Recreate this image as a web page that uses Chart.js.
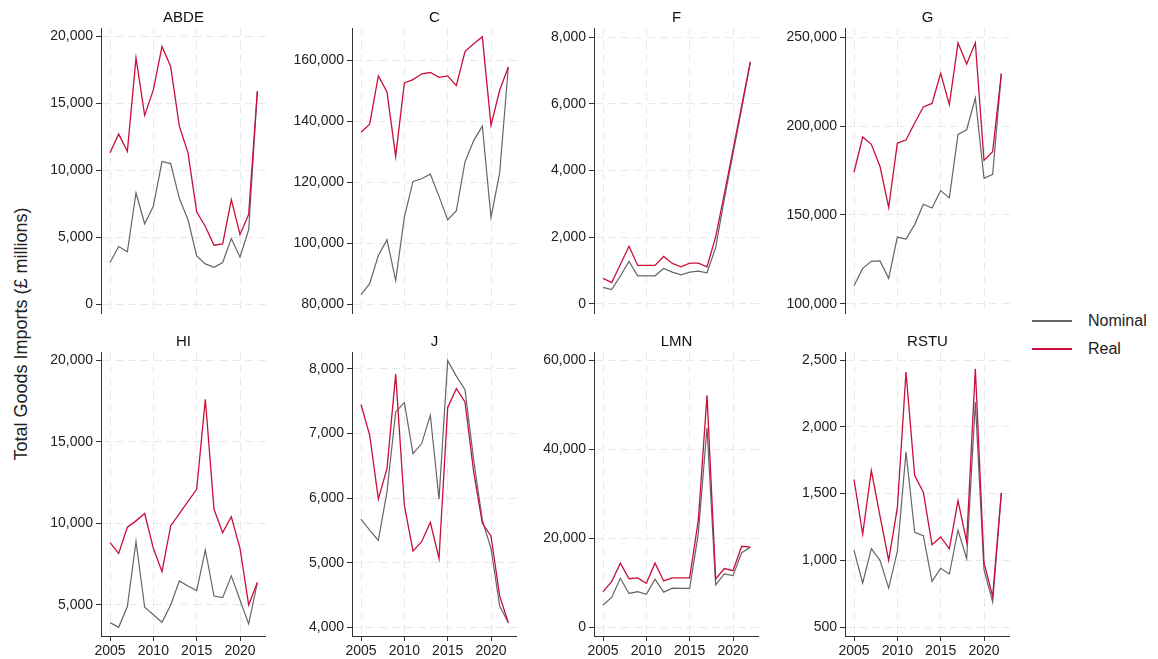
<!DOCTYPE html>
<html>
<head>
<meta charset="utf-8">
<script src="https://cdn.jsdelivr.net/npm/chart.js@4.4.1/dist/chart.umd.min.js"></script>
<style>
    body { margin: 0; background: #fff; }
    #wrap { position: relative; width: 1158px; height: 659px; overflow: hidden; font-family: "Liberation Sans", Arial, sans-serif; }
    canvas { position: absolute; }
    #ytitle {
        position: absolute; left: 21px; top: 334px;
        transform: translate(-50%, -50%) rotate(-90deg);
        white-space: nowrap; font-size: 18px; color: #222;
    }
    .leg { position: absolute; left: 1032px; font-size: 16px; color: #222; }
    .leg .line { position: absolute; left: 0; top: -1px; width: 40px; height: 2px; display: block; }
    .leg .txt { position: absolute; left: 56px; top: -10px; white-space: nowrap; line-height: 20px; }
</style>
</head>
<body>
<div id="wrap">
    <div id="ytitle">Total Goods Imports (£ millions)</div>
    <div class="leg" style="top:321px"><div class="line" style="background:#666666"></div><div class="txt">Nominal</div></div>
    <div class="leg" style="top:349px"><div class="line" style="background:#c90f3a"></div><div class="txt">Real</div></div>
</div>
<script>
// Data
const years = [2005, 2006, 2007, 2008, 2009, 2010, 2011, 2012, 2013, 2014, 2015, 2016, 2017, 2018, 2019, 2020, 2021, 2022];
const yearTicks = [2005, 2010, 2015, 2020];

const abdeNominal = [3100, 4300, 3900, 8300, 6000, 7300, 10650, 10500, 7900, 6300, 3600, 3000, 2750, 3100, 4900, 3500, 5550, 15900];
const abdeReal = [11300, 12700, 11400, 18400, 14100, 16000, 19250, 17750, 13300, 11300, 6900, 5800, 4400, 4500, 7800, 5200, 6700, 15900];
const abdeTicks = [0, 5000, 10000, 15000, 20000];

const cNominal = [83200, 86800, 96000, 101200, 87800, 108600, 120300, 121200, 122700, 115400, 107700, 110700, 126700, 133700, 138400, 108500, 123100, 157800];
const cReal = [136400, 139100, 154900, 149600, 128500, 152600, 153700, 155600, 156000, 154400, 154900, 151700, 162900, 165400, 167700, 138700, 150200, 157800];
const cTicks = [80000, 100000, 120000, 140000, 160000];

const fNominal = [500, 430, 840, 1275, 845, 845, 845, 1065, 955, 875, 955, 985, 935, 1690, 3150, 4500, 5850, 7230];
const fReal = [765, 640, 1185, 1730, 1155, 1155, 1155, 1425, 1215, 1115, 1225, 1225, 1115, 2010, 3300, 4620, 5940, 7260];
const fTicks = [0, 2000, 4000, 6000, 8000];

const gNominal = [110300, 120000, 124000, 124200, 114400, 137600, 136500, 144600, 156000, 153900, 163700, 159600, 195300, 197900, 215700, 170600, 172800, 229400];
const gReal = [174000, 193800, 189700, 177300, 154300, 190400, 192100, 201700, 210700, 212700, 229600, 212000, 246600, 234800, 246800, 180700, 185600, 229400];
const gTicks = [100000, 150000, 200000, 250000];

const hiNominal = [3920, 3630, 4900, 8880, 4860, 4400, 3940, 5000, 6470, 6160, 5880, 8370, 5550, 5450, 6780, 5300, 3840, 6370];
const hiReal = [8820, 8160, 9760, 10150, 10600, 8470, 7040, 9840, 10600, 11350, 12080, 17600, 10860, 9430, 10400, 8470, 5000, 6370];
const hiTicks = [5000, 10000, 15000, 20000];

const jNominal = [5675, 5505, 5345, 6100, 7335, 7480, 6690, 6845, 7285, 5985, 8130, 7890, 7680, 6590, 5660, 5220, 4330, 4070];
const jReal = [7450, 6975, 5985, 6460, 7920, 5890, 5180, 5325, 5625, 5065, 7400, 7695, 7490, 6405, 5610, 5410, 4485, 4070];
const jTicks = [4000, 5000, 6000, 7000, 8000];

const lmnNominal = [5000, 6700, 11000, 7600, 8000, 7400, 10800, 7900, 8800, 8750, 8750, 21100, 44800, 9500, 12000, 11600, 16750, 18000];
const lmnReal = [8000, 10250, 14400, 10900, 11100, 9900, 14400, 10400, 11100, 11100, 11100, 24100, 52100, 10850, 13200, 12700, 18200, 18000];
const lmnTicks = [0, 20000, 40000, 60000];

const rstuNominal = [1075, 830, 1087, 1000, 792, 1067, 1812, 1210, 1185, 842, 940, 897, 1225, 1012, 2185, 930, 687, 1505];
const rstuReal = [1605, 1197, 1672, 1330, 1000, 1392, 2410, 1635, 1510, 1117, 1175, 1085, 1447, 1137, 2435, 980, 730, 1505];
const rstuTicks = [500, 1000, 1500, 2000, 2500];

// Panel list: name, series, ticks, axis range (min, max)
const panels = [
    { name: 'ABDE', nominal: abdeNominal, real: abdeReal, ticks: abdeTicks, range: [-670, 20630] },
    { name: 'C', nominal: cNominal, real: cReal, ticks: cTicks, range: [77180, 170600] },
    { name: 'F', nominal: fNominal, real: fReal, ticks: fTicks, range: [-270, 8270] },
    { name: 'G', nominal: gNominal, real: gReal, ticks: gTicks, range: [94940, 255060] },
    { name: 'HI', nominal: hiNominal, real: hiReal, ticks: hiTicks, range: [3100, 20490] },
    { name: 'J', nominal: jNominal, real: jReal, ticks: jTicks, range: [3865, 8263] },
    { name: 'LMN', nominal: lmnNominal, real: lmnReal, ticks: lmnTicks, range: [-1950, 61800] },
    { name: 'RSTU', nominal: rstuNominal, real: rstuReal, ticks: rstuTicks, range: [433, 2560] }
];

// Layout
const FONT = '"Liberation Sans", Arial, sans-serif';
const AXIS_X = [101, 352, 594, 845];
const Y_WIDTH = 95;
const PLOT_W = 165;
const ROWS = [
    { top: 0, height: 330, padTop: 28, xHeight: 17, titleY: 18, bottom: false },
    { top: 320, height: 339, padTop: 32, xHeight: 23, titleY: 22, bottom: true }
];

const panelTitle = {
    id: 'panelTitle',
    afterDraw(chart, args, opts) {
        const { ctx, chartArea } = chart;
        ctx.save();
        ctx.font = '15px ' + FONT;
        ctx.fillStyle = '#111';
        ctx.textAlign = 'center';
        ctx.textBaseline = 'middle';
        ctx.fillText(opts.text, (chartArea.left + chartArea.right) / 2, opts.y);
        ctx.restore();
    }
};

function makePanel(p, i) {
    const row = ROWS[Math.floor(i / 4)];
    const canvas = document.createElement('canvas');
    canvas.width = Y_WIDTH + PLOT_W;
    canvas.height = row.height;
    canvas.style.left = (AXIS_X[i % 4] - Y_WIDTH) + 'px';
    canvas.style.top = row.top + 'px';
    document.getElementById('wrap').appendChild(canvas);

    new Chart(canvas.getContext('2d'), {
        type: 'line',
        data: {
            datasets: [{
                label: 'Real',
                data: years.map((yr, k) => ({ x: yr, y: p.real[k] })),
                borderColor: '#c90f3a',
                borderWidth: 1.3,
                pointRadius: 0,
                tension: 0
            }, {
                label: 'Nominal',
                data: years.map((yr, k) => ({ x: yr, y: p.nominal[k] })),
                borderColor: '#666666',
                borderWidth: 1.2,
                pointRadius: 0,
                tension: 0
            }]
        },
        options: {
            responsive: false,
            animation: false,
            layout: { padding: { top: row.padTop, left: 0, right: 0, bottom: 0 } },
            plugins: {
                legend: { display: false },
                tooltip: { enabled: false },
                panelTitle: { text: p.name, y: row.titleY }
            },
            scales: {
                x: {
                    type: 'linear',
                    min: 2003.96,
                    max: 2023.0,
                    afterBuildTicks: (s) => { s.ticks = yearTicks.map(v => ({ value: v })); },
                    afterFit: (s) => { s.height = row.xHeight; },
                    grid: {
                        color: '#e9e9e9',
                        lineWidth: 1,
                        drawTicks: row.bottom,
                        tickLength: 5,
                        tickColor: '#333',
                        tickBorderDash: []
                    },
                    border: { display: row.bottom, color: '#333', width: 1, dash: [8, 5] },
                    ticks: {
                        display: row.bottom,
                        padding: 2,
                        maxRotation: 0,
                        color: '#222',
                        font: { family: FONT, size: 14 },
                        callback: (v) => String(v)
                    }
                },
                y: {
                    type: 'linear',
                    min: p.range[0],
                    max: p.range[1],
                    afterBuildTicks: (s) => { s.ticks = p.ticks.map(v => ({ value: v })); },
                    afterFit: (s) => { s.width = Y_WIDTH; },
                    grid: {
                        color: '#e9e9e9',
                        lineWidth: 1,
                        tickLength: 5,
                        tickColor: '#333',
                        tickBorderDash: []
                    },
                    border: { display: true, color: '#333', width: 1, dash: [8, 5] },
                    ticks: {
                        padding: 3,
                        color: '#222',
                        font: { family: FONT, size: 14 },
                        callback: (v) => Number(v).toLocaleString('en-US')
                    }
                }
            }
        },
        plugins: [panelTitle]
    });
}

panels.forEach(makePanel);
</script>
</body>
</html>
